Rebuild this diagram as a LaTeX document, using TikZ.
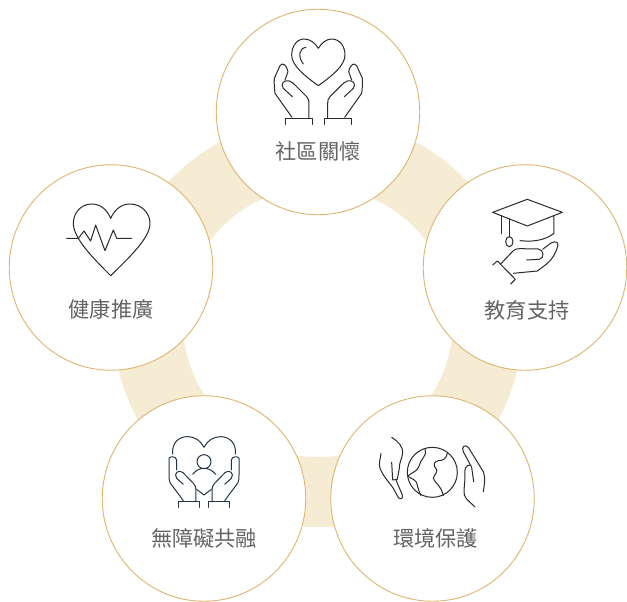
\documentclass[tikz,border=0pt]{standalone}
\usetikzlibrary{shapes.geometric}
\usepackage{fontspec}
\newfontfamily\cjk{Noto Sans CJK TC}
\definecolor{ringc}{HTML}{F6ECD3}
\definecolor{edgec}{HTML}{DDB56F}
\definecolor{labelc}{HTML}{636363}
\definecolor{inkc}{HTML}{2A2A2A}
\definecolor{navyc}{HTML}{243447}
\tikzset{
  bubble/.style={ellipse,draw=edgec,line width=0.9pt,fill=white,minimum width=203.5pt,minimum height=205.5pt,inner sep=0pt},
  caption/.style={font=\cjk\fontsize{21.2}{24}\selectfont,text=labelc,inner sep=0pt},
  icon/.style={draw=inkc,line width=1pt,line join=round,line cap=round},
  zoomed/.style={x=0.3333pt,y=-0.3333pt}
}
\begin{document}
\begin{tikzpicture}[x=1pt,y=-1pt]
\useasboundingbox (0,0) rectangle (627,602);
\fill[ringc,even odd rule] (318,322) circle[radius=205pt] (318,322) circle[radius=135pt];
\node[bubble] (top) at (318,112) {};
\node[bubble] (right) at (525,267.5) {};
\node[bubble] (br) at (432.5,498.5) {};
\node[bubble] (bl) at (204,498.5) {};
\node[bubble] (left) at (111,267.5) {};
\node[caption] (t1) at (318,151) {社區關懷};
\node[caption] (t2) at (527,310) {教育支持};
\node[caption] (t3) at (435.5,538) {環境保護};
\node[caption] (t4) at (204,538) {無障礙共融};
\node[caption] (t5) at (111,309) {健康推廣};
% icon 1: heart in hands
\begin{scope}[shift={(260,30)},zoomed,icon]
\draw (175,55) .. controls (165,38) and (150,27) .. (132,27) .. controls (110,27) and (95,50) .. (95,75) .. controls (95,105) and (130,135) .. (175,167) .. controls (220,135) and (255,105) .. (255,75) .. controls (255,50) and (240,27) .. (215,27) .. controls (200,27) and (185,38) .. (175,55);
\draw (138,52) .. controls (118,55) and (112,78) .. (130,102);
\foreach \m/\o in {1/0,-1/350}{
\begin{scope}[shift={(\o pt/3,0)},xscale=\m]
\draw (96,262) -- (45,190) .. controls (43,175) and (42,160) .. (43,145) -- (60,107) .. controls (68,97) and (78,102) .. (84,125) -- (75,150);
\draw (97,200) -- (70,175) .. controls (60,162) and (72,148) .. (88,153) .. controls (95,155) and (100,160) .. (105,165) -- (140,200) .. controls (146,206) and (147,212) .. (147,220) -- (147,266);
\draw (77,283) -- (77,266) -- (158,266) -- (158,283);
\end{scope}}
\end{scope}
% icon 2: cap and hand
\begin{scope}[shift={(480,190)},zoomed,icon]
\draw (38,67) -- (142,28) -- (247,67) -- (142,108) -- cycle;
\draw (63,76) -- (63,132);
\draw (88,87) -- (88,140);
\draw (88,155) ellipse[x radius=11,y radius=15];
\draw (222,77) -- (222,130) .. controls (190,155) and (150,155) .. (120,152);
\draw (38,225) -- (52,213) -- (106,268) -- (92,282);
\draw (62,222) -- (100,182) .. controls (105,177) and (112,176) .. (120,176) -- (175,177) .. controls (192,178) and (194,205) .. (178,208) -- (140,210);
\draw (188,178) -- (205,165) .. controls (215,155) and (235,150) .. (234,165) .. controls (228,190) and (215,210) .. (200,222) -- (172,243) -- (100,250);
\end{scope}
% icon 3: earth and hands
\begin{scope}[shift={(370,430)},zoomed,icon]
\draw (187,127) circle[radius=75];
\draw (165,57) .. controls (175,75) and (150,88) .. (147,108) .. controls (145,122) and (125,128) .. (115,137);
\draw (115,140) .. controls (128,148) and (142,150) .. (143,170) .. controls (145,180) and (150,190) .. (152,196);
\draw (232,70) .. controls (228,85) and (222,92) .. (205,92) .. controls (192,95) and (190,105) .. (195,112) .. controls (210,125) and (190,135) .. (190,145) .. controls (195,160) and (212,165) .. (220,196);
\draw (65,22) .. controls (85,35) and (100,50) .. (98,70) .. controls (95,90) and (88,95) .. (88,115) -- (82,148) -- (68,150) -- (65,97);
\draw (33,70) .. controls (32,85) and (25,100) .. (30,115) .. controls (40,140) and (60,160) .. (70,175) -- (85,203) .. controls (92,210) and (100,206) .. (97,195) -- (78,150);
\draw (340,185) .. controls (342,165) and (348,150) .. (340,125) -- (295,52) .. controls (285,42) and (273,50) .. (280,65) -- (305,112) -- (311,155);
\draw (301,105) .. controls (285,105) and (283,120) .. (285,135) .. controls (286,155) and (280,175) .. (283,195) .. controls (288,210) and (305,220) .. (315,231);
\end{scope}
% icon 4: person in heart and hands
\begin{scope}[shift={(160,430)},zoomed,icon,draw=navyc]
\draw (38,72) .. controls (35,40) and (55,20) .. (82,20) .. controls (105,20) and (122,32) .. (132,52) .. controls (142,32) and (160,20) .. (182,20) .. controls (208,20) and (230,40) .. (226,72);
\draw (110,178) -- (132,195) -- (154,178);
\draw (132,95) circle[radius=21];
\draw (98,133) .. controls (108,120) and (120,115) .. (132,115) .. controls (144,115) and (156,120) .. (167,133);
\foreach \m/\o in {1/0,-1/264}{
\begin{scope}[shift={(\o pt/3,0)},xscale=\m]
\draw (70,212) -- (30,158) .. controls (27,150) and (27,145) .. (27,135) -- (27,85) .. controls (30,78) and (48,78) .. (50,90) -- (50,120);
\draw (70,163) -- (50,145) .. controls (40,130) and (55,118) .. (68,127) -- (100,160) .. controls (106,166) and (108,172) .. (108,180) -- (108,216);
\draw (55,232) -- (55,216) -- (120,216) -- (120,232);
\end{scope}}
\end{scope}
% icon 5: heart with pulse
\begin{scope}[shift={(60,195)},zoomed,icon]
\draw (152,70) .. controls (140,42) and (120,27) .. (95,27) .. controls (62,27) and (40,55) .. (40,85) .. controls (40,130) and (100,190) .. (152,242) .. controls (205,190) and (270,130) .. (270,85) .. controls (270,55) and (245,27) .. (210,27) .. controls (185,27) and (165,42) .. (152,70);
\draw (20,130) -- (55,130) -- (72,108) -- (92,138) -- (107,90) -- (135,167) -- (160,105) -- (170,130) -- (215,130);
\end{scope}
\end{tikzpicture}
\end{document}
